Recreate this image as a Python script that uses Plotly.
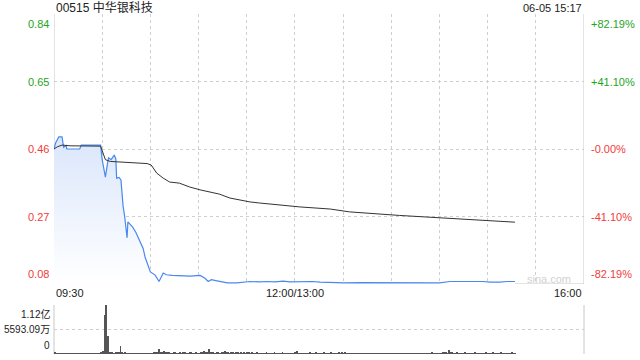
import plotly.graph_objects as go

# ---------------- data ----------------
title_text = "00515 中华银科技"
stamp_text = "06-05 15:17"
watermark = "sina.com"

price_ticks = [0.84, 0.65, 0.46, 0.27, 0.08]
price_tick_labels = ["0.84", "0.65", "0.46", "0.27", "0.08"]
pct_tick_labels = ["+82.19%", "+41.10%", "-0.00%", "-41.10%", "-82.19%"]
tick_is_up = [True, True, False, False, False]

x_tick_pos = [0, 150, 330]
x_tick_labels = ["09:30", "12:00/13:00", "16:00"]
x_grid = [30, 60, 90, 120, 150, 180, 210, 240, 270, 300]

vol_ticks = [11186, 5593, 0]
vol_tick_labels = ["1.12亿", "5593.09万", "0"]

# price (minutes after 09:30, trading time)
price_t = [0, 1, 2.5, 3, 5, 6, 7.5, 8, 10, 16, 17, 29, 30, 31, 32, 33.5, 34, 35.5, 37, 37.5,
           38.5, 39, 40.5, 41.7, 43, 44, 45.5, 46, 47, 49, 51, 53.5, 55.5, 56.7, 58.5, 60,
           63, 65.4, 68, 70, 73.5, 78.5, 84.7, 91, 94, 96, 98, 101.5, 104.6, 108, 114, 119,
           122, 128, 132.6, 137.6, 142.6, 147, 153, 161, 165.6, 181, 190.5, 211, 228, 240,
           246.5, 253, 259, 267, 271.5, 277.7, 282, 287]
price_v = [0.460, 0.477, 0.490, 0.494, 0.494, 0.465, 0.470, 0.460, 0.460, 0.460, 0.471, 0.471,
           0.430, 0.400, 0.381, 0.425, 0.435, 0.430, 0.440, 0.443, 0.432, 0.378, 0.380, 0.373,
           0.300, 0.270, 0.210, 0.255, 0.250, 0.240, 0.225, 0.198, 0.180, 0.156, 0.130, 0.114,
           0.105, 0.087, 0.111, 0.106, 0.104, 0.103, 0.102, 0.104, 0.096, 0.087, 0.092, 0.089,
           0.086, 0.083, 0.083, 0.085, 0.087, 0.086, 0.087, 0.086, 0.088, 0.086, 0.087, 0.087,
           0.085, 0.083, 0.084, 0.083, 0.084, 0.083, 0.087, 0.086, 0.087, 0.087, 0.085, 0.085,
           0.087, 0.087]

# average price
avg_t = [0, 2, 5, 10, 29, 31, 32, 35, 42, 58, 60.5, 64, 68, 72, 78, 84.5, 91, 97, 103, 109.5,
         116, 122, 128, 140, 153, 172, 184, 215, 240, 265, 287]
avg_v = [0.460, 0.466, 0.471, 0.469, 0.468, 0.440, 0.430, 0.425, 0.423, 0.419, 0.415, 0.392,
         0.378, 0.367, 0.364, 0.353, 0.345, 0.339, 0.333, 0.322, 0.316, 0.311, 0.308, 0.302,
         0.297, 0.291, 0.283, 0.273, 0.266, 0.259, 0.254]

# volume per minute (万股), minute 0 .. 287
volume = [
    300, 150, 120, 180, 90, 110, 140, 80, 100, 120, 90, 70, 110, 80, 60, 90, 100, 70, 80, 120,
    90, 100, 80, 110, 70, 60, 90, 120, 150, 400, 600, 8900, 11186, 4100, 500, 300, 250, 200, 350, 300,
    250, 1900, 300, 200, 250, 150, 200, 180, 120, 150, 200, 130, 110, 160, 120, 140, 100, 130, 150, 120,
    200, 150, 300, 250, 400, 1100, 300, 400, 700, 350, 250, 300, 200, 150, 250, 300, 200, 150, 250, 200,
    300, 250, 200, 150, 250, 300, 200, 180, 250, 200, 150, 300, 350, 600, 300, 250, 1100, 300, 250, 350,
    200, 300, 250, 200, 350, 300, 700, 250, 300, 200, 250, 300, 200, 250, 300, 200, 250, 150, 300, 200,
    250, 400, 200, 250, 200, 150, 250, 200, 180, 220, 200, 150, 250, 200, 180, 150, 200, 250, 180, 200,
    150, 200, 250, 180, 200, 150, 200, 180, 150, 200,
    250, 600, 200, 180, 150, 200, 180, 150, 200, 250, 180, 200, 150, 250, 200, 180, 150, 200, 250, 180,
    200, 150, 250, 200, 180, 150, 200, 250, 180, 300, 200, 500, 200, 150, 180, 200, 150, 180, 200, 150,
    150, 180, 200, 150, 180, 120, 150, 180, 200, 150, 120, 180, 150, 200, 180, 150, 120, 180, 150, 200,
    180, 150, 200, 150, 120, 180, 150, 200, 180, 150, 120, 180, 150, 200, 180, 150, 200, 180, 150, 120,
    180, 200, 150, 180, 200, 250, 180, 150, 200, 180, 150, 200, 250, 300, 250, 200, 900, 300, 250, 200,
    200, 250, 180, 200, 150, 200, 250, 180, 200, 150, 200, 180, 250, 200, 150, 200, 180, 150, 200, 250,
    180, 200, 150, 250, 200, 180, 150, 200, 250, 180, 200, 150, 180, 200, 150, 250, 200, 180,
]
vol_t = list(range(len(volume)))

# ---------------- styling ----------------
FONT = "Liberation Sans, Arial, Noto Sans CJK SC, sans-serif"
UP = "#1ea51e"
DOWN = "#f03c3c"
GRID = "#cfcfcf"
BORDER = "#c8c8c8"

W, H = 640, 360
ML, MR, MT, MB = 54, 56, 14, 6
PH = H - MT - MB


def py(pix):  # pixel row -> paper y
    return (H - MB - pix) / PH


fig = go.Figure()

fig.add_trace(go.Scatter(
    x=price_t, y=price_v, mode="lines", xaxis="x", yaxis="y",
    line=dict(color="#4a88ee", width=1.2),
    fill="tozeroy",
    fillgradient=dict(type="vertical", start=0.08, stop=0.5,
                      colorscale=[[0, "rgba(255,255,255,1)"], [1, "rgba(218,230,251,1)"]]),
    hoverinfo="skip", showlegend=False,
))
fig.add_trace(go.Scatter(
    x=avg_t, y=avg_v, mode="lines", xaxis="x", yaxis="y",
    line=dict(color="#333333", width=1),
    hoverinfo="skip", showlegend=False,
))
fig.add_trace(go.Bar(
    x=vol_t, y=volume, xaxis="x2", yaxis="y2",
    width=0.55, marker=dict(color="#555555", line=dict(width=0)),
    hoverinfo="skip", showlegend=False,
))

main_bottom = py(284)
vol_top = py(305)

fig.update_layout(
    width=W, height=H,
    margin=dict(l=ML, r=MR, t=MT, b=MB, pad=0),
    paper_bgcolor="white", plot_bgcolor="white",
    font=dict(family=FONT, size=11, color="#333"),
    bargap=0,
    xaxis=dict(domain=[0, 1], range=[0, 330], tickvals=x_grid, showticklabels=False,
               showgrid=True, gridcolor=GRID, griddash="dot", gridwidth=1,
               zeroline=False, showline=False, ticks="", anchor="y", fixedrange=True),
    yaxis=dict(domain=[main_bottom, 1], range=[0.08, 0.84], tickvals=[0.27, 0.46, 0.65],
               showticklabels=False, showgrid=True, gridcolor=GRID, griddash="dot",
               zeroline=False, showline=False, ticks="", anchor="x", fixedrange=True),
    xaxis2=dict(domain=[0, 1], range=[-0.5, 330], showticklabels=False, showgrid=False,
                zeroline=False, showline=False, ticks="", anchor="y2", fixedrange=True),
    yaxis2=dict(domain=[0, vol_top], range=[0, vol_ticks[0]], tickvals=vol_ticks,
                showticklabels=False, showgrid=True, gridcolor=GRID, griddash="dot",
                zeroline=False, showline=False, ticks="", anchor="x2", fixedrange=True),
)

shapes = []
# main panel borders (left, right, bottom)
for xv in (0, 330):
    shapes.append(dict(type="line", xref="x", yref="y domain", x0=xv, x1=xv, y0=0, y1=1,
                       layer="below", line=dict(color=BORDER, width=1)))
shapes.append(dict(type="line", xref="x domain", yref="y", x0=0, x1=1, y0=0.08, y1=0.08,
                   layer="below", line=dict(color=BORDER, width=1)))
# volume panel side borders
for xv in (0, 1):
    shapes.append(dict(type="line", xref="x2 domain", yref="y2 domain", x0=xv, x1=xv, y0=0, y1=1,
                       layer="below", line=dict(color=BORDER, width=1)))
fig.update_layout(shapes=shapes)

ann = []
ann.append(dict(text=title_text, xref="paper", yref="paper", x=0, y=py(7.5), xanchor="left",
                yanchor="middle", showarrow=False, font=dict(size=12, color="#222")))
ann.append(dict(text=stamp_text, xref="paper", yref="paper", x=1, y=py(7.5), xanchor="right",
                yanchor="middle", showarrow=False, font=dict(size=11, color="#222")))

n = len(price_ticks)
for i, (v, lab, pct, up) in enumerate(zip(price_ticks, price_tick_labels, pct_tick_labels, tick_is_up)):
    col = UP if up else DOWN
    if i == 0:
        ya, ys = "top", -2
    elif i == n - 1:
        ya, ys = "bottom", 2
    else:
        ya, ys = "middle", 0
    ann.append(dict(text=lab, xref="paper", yref="y", x=0, y=v, xanchor="right", xshift=-3,
                    yanchor=ya, yshift=ys, showarrow=False, font=dict(size=11, color=col)))
    ann.append(dict(text=pct, xref="paper", yref="y", x=1, y=v, xanchor="left", xshift=5,
                    yanchor=ya, yshift=ys, showarrow=False, font=dict(size=11, color=col)))

for i, (v, lab) in enumerate(zip(vol_ticks, vol_tick_labels)):
    if i == 0:
        ya, ys = "top", -1
    elif i == len(vol_ticks) - 1:
        ya, ys = "bottom", 1
    else:
        ya, ys = "middle", 0
    ann.append(dict(text=lab, xref="paper", yref="y2", x=0, y=v, xanchor="right", xshift=-2,
                    yanchor=ya, yshift=ys, showarrow=False, font=dict(size=10, color="#222")))

anchors = ["left", "center", "right"]
for xv, lab, a in zip(x_tick_pos, x_tick_labels, anchors):
    ann.append(dict(text=lab, xref="x", yref="paper", x=xv, y=py(293), xanchor=a,
                    yanchor="middle", showarrow=False, font=dict(size=11, color="#222")))

ann.append(dict(text=watermark, xref="paper", yref="paper", x=(573 - ML) / 530, y=py(279),
                xanchor="right", yanchor="middle", showarrow=False,
                font=dict(size=11, color="#d2d2d2")))

fig.update_layout(annotations=ann)
fig.write_html("out.html")
